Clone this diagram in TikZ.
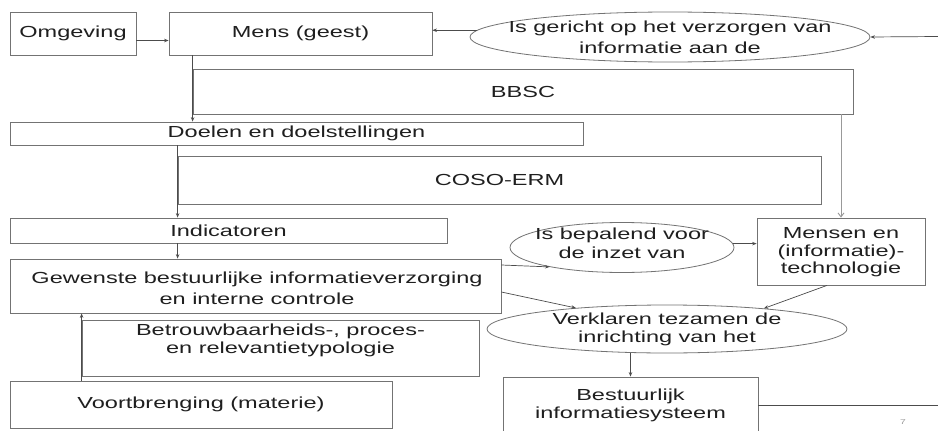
\documentclass[tikz,border=0pt]{standalone}
\usepackage{fontspec}
\setmainfont{Liberation Sans}[FakeStretch=1.47]
\usetikzlibrary{arrows.meta,shapes.geometric}
\definecolor{edge}{gray}{0.45}
\definecolor{ink}{gray}{0.12}
\begin{document}
\begin{tikzpicture}[x=1pt,y=-1pt,
  box/.style={draw=edge, line width=0.8pt, rectangle, inner sep=0pt, text=ink, align=center, font=\fontsize{16}{18}\selectfont},
  ell/.style={draw=edge, line width=0.8pt, ellipse, inner sep=0pt},
  txt/.style={text=ink, align=center, inner sep=0pt, font=\fontsize{16}{18}\selectfont},
  arr/.style={draw=black!70, line width=0.7pt, -{Stealth[length=4.5pt,width=3.5pt]}},
  garr/.style={draw=black!40, line width=0.9pt, -{Straight Barb[length=4pt,width=6pt]}},
  ln/.style={draw=black!70, line width=0.7pt}]
\useasboundingbox (0,0) rectangle (938,431);
\clip (0,0) rectangle (938,431);
\fill[white] (0,0) rectangle (938,431);
% boxes
\node[box, minimum width=126pt, minimum height=43pt] (omg) at (73,33.5) {Omgeving};
\node[box, minimum width=263pt, minimum height=43pt] (mens) at (300.5,33.5) {Mens (geest)};
\node[ell, minimum width=400pt, minimum height=50pt] (ger) at (670,37) {};
\node[txt, font=\fontsize{16}{21}\selectfont] (gert) at (670,37) {Is gericht op het verzorgen van\\informatie aan de};
\node[box, minimum width=660pt, minimum height=45pt] (bbsc) at (523,91.5) {BBSC};
\node[box, minimum width=573pt, minimum height=23pt] (doel) at (296.5,133.5) {Doelen en doelstellingen};
\node[box, minimum width=643pt, minimum height=48pt] (coso) at (499.5,180) {COSO-ERM};
\node[box, minimum width=437pt, minimum height=25pt] (ind) at (228.5,230.5) {Indicatoren};
\node[box, minimum width=491pt, minimum height=54pt] (gew) at (255.5,286) {};
\node[txt, font=\fontsize{16}{21}\selectfont] (gewt) at (257,288) {Gewenste bestuurlijke informatieverzorging\\en interne controle};
\node[box, minimum width=397pt, minimum height=56pt] (betr) at (280.5,348) {};
\node[txt, font=\fontsize{16}{18}\selectfont] (betrt) at (280.5,340) {Betrouwbaarheids-, proces-\\en relevantietypologie};
\node[box, minimum width=382pt, minimum height=47pt] (voort) at (201,404.5) {};
\node[txt] (voortt) at (201,404) {Voortbrenging (materie)};
\node[ell, minimum width=224pt, minimum height=50pt] (bep) at (622,247.5) {};
\node[txt, font=\fontsize{16}{19}\selectfont] (bept) at (622,243) {Is bepalend voor\\de inzet van};
\node[box, minimum width=168pt, minimum height=67pt] (mensen) at (841,251.5) {};
\node[txt, font=\fontsize{16}{17.5}\selectfont] (mensent) at (841,252.5) {Mensen en\\(informatie)-\\technologie};
\node[ell, minimum width=360pt, minimum height=48pt] (verk) at (667,329) {};
\node[txt, font=\fontsize{16}{18}\selectfont] (verkt) at (667,329) {Verklaren tezamen de\\inrichting van het};
\node[box, minimum width=255pt, minimum height=57pt] (best) at (630.5,405.5) {};
\node[txt, font=\fontsize{16}{18}\selectfont] (bestt) at (630.5,405) {Bestuurlijk\\informatiesysteem};
\coordinate (rin) at (938,36.5);
\coordinate (rout) at (938,405.5);
\node[text=black!40, inner sep=0pt, font=\fontsize{7}{8}\selectfont] (pg) at (903,422) {7};
% connectors
\draw[arr] ([yshift=-7pt]omg.east) -- ([yshift=-7pt]mens.west);
\draw[arr] (ger.178.5) -- (ger.178.5 -| mens.east);
\draw[arr] (rin) -- (ger.east);
\draw[arr, line width=1.2pt] (mens.south -| bbsc.west) -- (doel.north -| bbsc.west);
\draw[arr] (doel.south -| coso.west) -- (ind.north -| coso.west);
\draw[arr] (ind.south -| coso.west) -- (gew.north -| coso.west);
\draw[arr] (voort.north -| betr.west) -- (gew.south -| betr.west);
\draw[garr] (mensen.north |- bbsc.south) -- (mensen.north);
\draw[arr] ([yshift=21pt]gew.east) -- (bep.195);
\draw[arr] ([yshift=-6pt]gew.east) -- (verk.167);
\draw[arr] (bep.2.5) -- (bep.2.5 -| mensen.west);
\draw[arr] ([xshift=-14pt]mensen.south) -- (verk.12);
\draw[arr] (best.north |- verk.south) -- (best.north);
\draw[ln] (best.east) -- (best.east -| rout);
\end{tikzpicture}
\end{document}
